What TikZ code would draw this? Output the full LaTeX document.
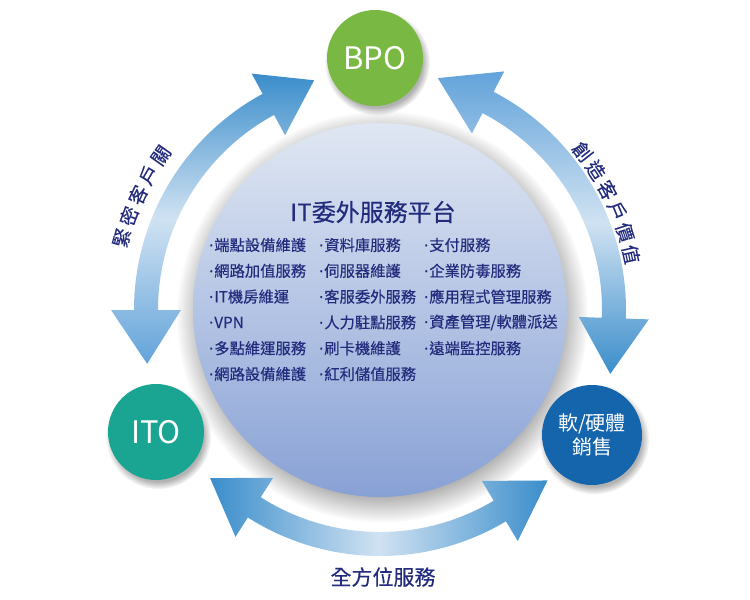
\documentclass[tikz,border=0pt]{standalone}
\usepackage{fontspec}
\setmainfont{Noto Sans CJK TC}
\newfontfamily\semib[FakeBold=0.3]{Noto Sans CJK TC}
\newfontfamily\dotfont[FakeBold=0.3]{Noto Sans}
\usetikzlibrary{calc,shadows}
\definecolor{navy}{HTML}{222B7C}
\definecolor{bpoGreen}{HTML}{79B943}
\definecolor{itoTeal}{HTML}{1AA593}
\definecolor{swBlue}{HTML}{1565AD}
\definecolor{mainTop}{HTML}{E0E7F3}
\definecolor{mainBot}{HTML}{88A1D5}
\definecolor{ArrDark}{HTML}{3A8DCB}
\definecolor{ArrMid}{HTML}{62A3DA}
\definecolor{ArrLight}{HTML}{D0E2F2}
\newcommand{\arcarrow}[5]{%
  \shade[#5] ($(C)+(#1:246pt)$) arc[start angle=#1, end angle=#2, radius=246pt]
    -- ($(C)+(#2:269pt)$) -- ($(C)+(#4:239pt)$) -- ($(C)+(#2:199pt)$)
    -- ($(C)+(#2:222pt)$) arc[start angle=#2, end angle=#1, radius=222pt]
    -- ($(C)+(#1:199pt)$) -- ($(C)+(#3:239pt)$) -- ($(C)+(#1:269pt)$) -- cycle;}
\newcommand{\itemdot}{{\dotfont ·}\hspace{1pt}}
\begin{document}
\begin{tikzpicture}[x=1pt,y=-1pt,
  hub/.style={circle, inner sep=0pt, text=white,
    circular drop shadow={shadow xshift=2pt, shadow yshift=-4pt, opacity=0.3, fill=black}},
  item/.style={anchor=west, inner sep=0pt, text=navy, font=\semib\fontsize{15.3}{18}\selectfont},
  arclabel/.style={inner sep=0pt, text=navy, font=\semib\fontsize{19}{21}\selectfont}]
\useasboundingbox (0,0) rectangle (750,600);
\coordinate (C) at (380,310);
% main circle
\node[circle, minimum size=374pt, inner sep=0pt, top color=mainTop, bottom color=mainBot,
  circular drop shadow={shadow xshift=2pt, shadow yshift=-6pt, opacity=0.35, fill=black}] (main) at (C) {};
% arrows
\arcarrow{180}{118.5}{193}{106}{top color=ArrDark, bottom color=ArrMid, middle color=ArrLight}
\arcarrow{62.5}{-2}{76}{-15.5}{top color=ArrMid, bottom color=ArrDark, middle color=ArrLight}
\arcarrow{237.5}{300.8}{224.7}{314.5}{left color=ArrDark, right color=ArrDark, middle color=ArrLight}
% hubs
\node[hub, minimum size=96pt, fill=bpoGreen, font=\fontsize{31}{33}\selectfont] (bpo) at (375,58) {BPO};
\node[hub, minimum size=96pt, fill=itoTeal, font=\fontsize{31}{33}\selectfont] (ito) at (156,432) {ITO};
\node[hub, minimum size=100pt, fill=swBlue, align=center, font=\fontsize{20}{24}\selectfont] (sw) at (592,435) {軟/硬體\\銷售};
% title
\node[inner sep=0pt, text=navy, font=\semib\fontsize{24}{28}\selectfont] (title) at (373,212) {IT委外服務平台};
% list
\foreach \t [count=\i from 0] in {端點設備維護,網路加值服務,IT機房維運,VPN,多點維運服務,網路設備維護}
  {\node[item] (a\i) at (209,245+25.8*\i) {\itemdot\t};}
\foreach \t [count=\i from 0] in {資料庫服務,伺服器維護,客服委外服務,人力駐點服務,刷卡機維護,紅利儲值服務}
  {\node[item] (b\i) at (319,245+25.8*\i) {\itemdot\t};}
\foreach \t [count=\i from 0] in {支付服務,企業防毒服務,應用程式管理服務,資產管理/軟體派送,遠端監控服務}
  {\node[item] (c\i) at (424,245+25.8*\i) {\itemdot\t};}
% arc labels
\foreach \ch [count=\i from 0] in {緊,密,客,戶,關}
  {\pgfmathsetmacro\ang{164.4-4.9*\i}
   \node[arclabel, rotate=\ang-90] (l\i) at ($(C)+(\ang:268pt)$) {\ch};}
\foreach \ch [count=\i from 0] in {創,造,客,戶,價,值}
  {\pgfmathsetmacro\ang{38-5.1*\i}
   \node[arclabel, rotate=\ang-90] (r\i) at ($(C)+(\ang:257pt)$) {\ch};}
\node[inner sep=0pt, text=navy, font=\semib\fontsize{21}{24}\selectfont] (bottom) at (383,577) {全方位服務};
\end{tikzpicture}
\end{document}
